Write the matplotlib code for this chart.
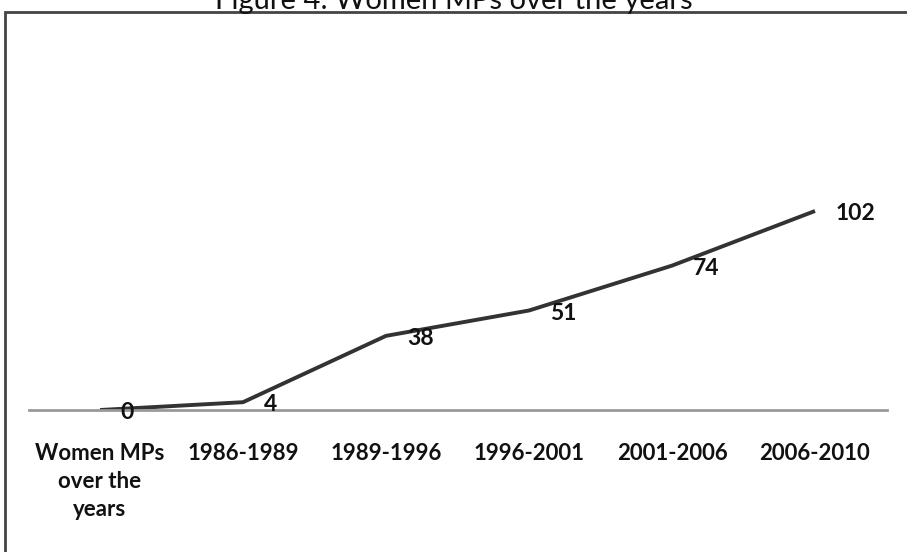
import matplotlib.pyplot as plt
from matplotlib.patches import Rectangle

# data
periods = ['Women MPs\nover the\nyears', '1986-1989', '1989-1996', '1996-2001', '2001-2006', '2006-2010']
women_mps = [0, 4, 38, 51, 74, 102]
title = 'Figure 4: Women MPs over the years'

plt.rcParams['font.family'] = ['Lato', 'DejaVu Sans']

fig = plt.figure(figsize=(9.07, 5.52), dpi=100)
W, H = 907.0, 552.0

# outer frame (right and bottom edges run off the picture)
fig.patches.append(Rectangle((5 / W, -0.1), 1.2, 1 - 12 / H + 0.1, transform=fig.transFigure,
                             fill=False, edgecolor='#444444', linewidth=2))
fig.text(0.5, 1 - 9 / H, title, ha='center', va='baseline', fontsize=21, color='#111111')

# axes placed so that x=-0.5..5.5 covers px 28..887 and y=0 sits at px 410
ax = fig.add_axes([28.5 / W, 1 - 410 / H, 858 / W, 234 / H])
x = list(range(len(periods)))
ax.plot(x, women_mps, color='#333333', linewidth=2.8, solid_capstyle='butt')
for xi, v in zip(x, women_mps):
    ax.annotate(str(v), (xi, v), xytext=(15, -2), textcoords='offset points',
                ha='left', va='center', fontsize=16.5, fontweight='bold', color='#111111')

ax.set_xlim(-0.5, 5.5)
ax.set_ylim(0, 234 / 1.951)
ax.set_xticks(x)
ax.set_xticklabels(periods, fontsize=16, fontweight='bold', color='#111111', linespacing=1.4)
ax.tick_params(axis='x', length=0, pad=24)
ax.set_yticks([])
for s in ['top', 'left', 'right']:
    ax.spines[s].set_visible(False)
ax.spines['bottom'].set_color('#999999')
ax.spines['bottom'].set_linewidth(2)
ax.patch.set_alpha(0)

fig.savefig('out.png', dpi=100)
